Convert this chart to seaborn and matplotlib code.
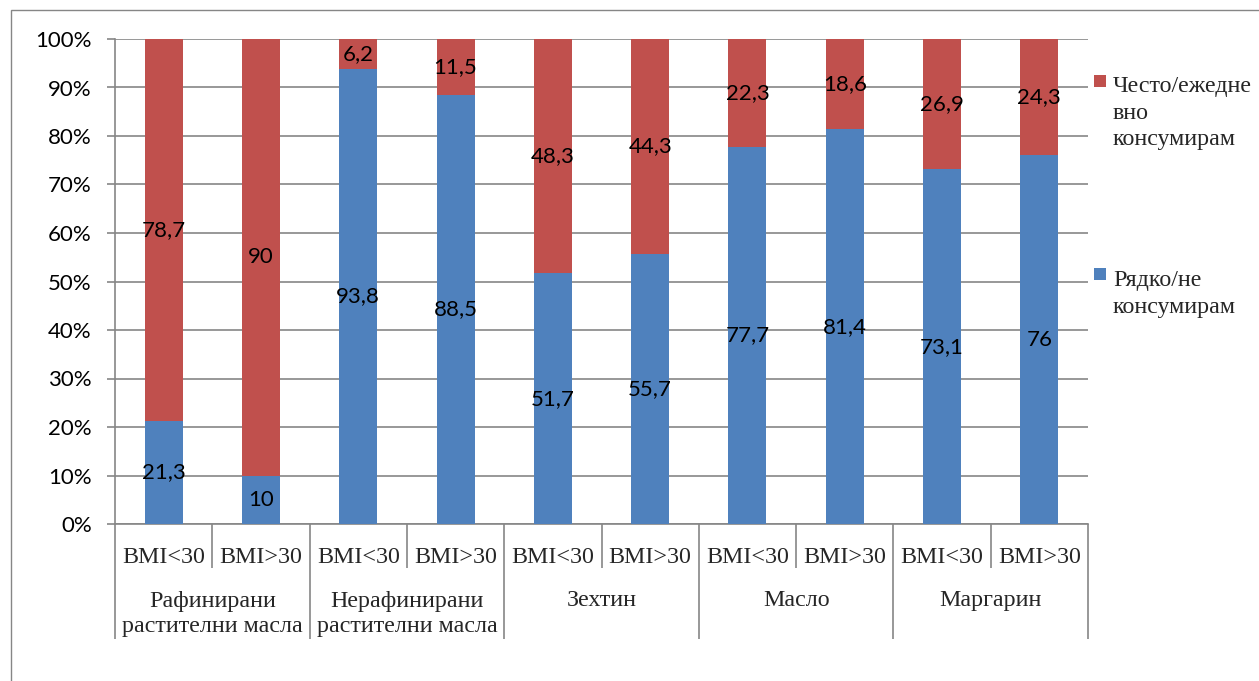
import numpy as np
import pandas as pd
import matplotlib
matplotlib.use("Agg")
import matplotlib.pyplot as plt
from matplotlib.patches import Rectangle
from matplotlib.transforms import blended_transform_factory
import seaborn as sns

# Data: share of respondents (%) by product and BMI group
groups = ["Рафинирани\nрастителни масла", "Нерафинирани\nрастителни масла",
          "Зехтин", "Масло", "Маргарин"]
bmi_labels = ["BMI<30", "BMI>30"]
rarely = [21.3, 10, 93.8, 88.5, 51.7, 55.7, 77.7, 81.4, 73.1, 76]
often = [78.7, 90, 6.2, 11.5, 48.3, 44.3, 22.3, 18.6, 26.9, 24.3]
series_often = "Често/ежедневно консумирам"
series_rarely = "Рядко/не консумирам"
legend_text = {series_often: "Често/ежедне\nвно\nконсумирам",
               series_rarely: "Рядко/не\nконсумирам"}
y_ticks = [0, 10, 20, 30, 40, 50, 60, 70, 80, 90, 100]

RED = "#C0504D"
BLUE = "#4F81BD"
GRID = "#868686"
W, H = 1259, 681

sns.set_theme(style="white")
plt.rcParams["font.family"] = ["Lato", "DejaVu Sans"]

n = len(rarely)
pos = np.arange(n)
df = pd.DataFrame({
    "pos": np.concatenate([pos, pos]),
    "series": [series_rarely] * n + [series_often] * n,
    "value": rarely + often,
})

fig = plt.figure(figsize=(W / 100, H / 100), dpi=100)
ax = fig.add_axes([115 / W, 1 - 524 / H, (1088 - 115) / W, (524 - 39) / H])

sns.histplot(data=df, x="pos", weights="value", hue="series",
             hue_order=[series_often, series_rarely], multiple="stack",
             discrete=True, shrink=0.39, palette=[RED, BLUE], alpha=1,
             linewidth=0, legend=False, ax=ax, zorder=3)

ax.set_xlim(-0.5, n - 0.5)
ax.set_ylim(0, 100)
ax.set_xlabel("")
ax.set_ylabel("")

# horizontal gridlines and y axis
ax.set_yticks(y_ticks)
ax.set_yticklabels([f"{t}%" for t in y_ticks])
ax.yaxis.grid(True, color=GRID, linewidth=1.2)
ax.set_axisbelow(True)
ax.tick_params(axis="y", which="major", left=True, length=5.8, width=1.2,
               color=GRID, pad=11, labelsize=16, labelcolor="black")
for side in ("top", "right"):
    ax.spines[side].set_visible(False)
for side in ("left", "bottom"):
    ax.spines[side].set_color(GRID)
    ax.spines[side].set_linewidth(1.2)

# category separators drawn as long x ticks
ax.set_xticks(np.arange(-0.5, n, 2))
ax.set_xticks(np.arange(0.5, n, 2), minor=True)
ax.set_xticklabels([])
ax.tick_params(axis="x", which="major", bottom=True, length=82.8, width=1.2,
               color=GRID)
ax.tick_params(axis="x", which="minor", bottom=True, length=31.7, width=1.2,
               color=GRID)

serif = ["Liberation Serif", "DejaVu Serif"]
SERIF_SIZE = 17.3
trans = blended_transform_factory(ax.transData, ax.transAxes)
for i in range(n):
    ax.text(i, (524 - 563) / 485, bmi_labels[i % 2], transform=trans,
            ha="center", va="baseline", family=serif, fontsize=SERIF_SIZE)
for g, name in enumerate(groups):
    # baseline of the last line of the group label
    last_base = 606 + 26 * name.count("\n")
    ax.text(2 * g + 0.5, (524 - last_base) / 485, name, transform=trans,
            ha="center", va="baseline", family=serif, fontsize=SERIF_SIZE,
            linespacing=1.22)

# value labels in the middle of each segment
for c in ax.containers:
    ax.bar_label(c, fmt=lambda v: f"{v:g}".replace(".", ","),
                 label_type="center", fontsize=16, color="black", zorder=5)

# legend
for color, key, top, base in [(RED, series_often, 75, 90),
                              (BLUE, series_rarely, 268, 285)]:
    label = legend_text[key]
    last_base = base + 27.5 * label.count("\n")
    fig.add_artist(Rectangle((1094 / W, 1 - (top + 12) / H), 12 / W, 12 / H,
                             transform=fig.transFigure, facecolor=color,
                             edgecolor="none"))
    fig.text(1113 / W, 1 - last_base / H, label, ha="left",
             va="baseline", family=serif, fontsize=SERIF_SIZE, linespacing=1.34)

# outer chart border
fig.add_artist(Rectangle((11 / W, -0.05), 1.1, 1 - 10 / H + 0.05,
                         transform=fig.transFigure, facecolor="none",
                         edgecolor=GRID, linewidth=1.0, clip_on=False))

fig.savefig("out.png", dpi=100)
